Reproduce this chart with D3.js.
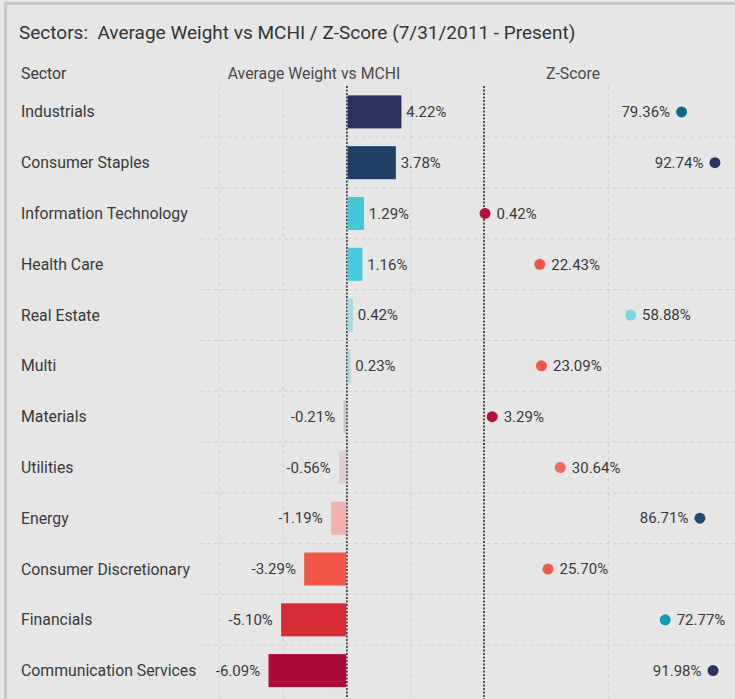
<!DOCTYPE html>
<html>
<head>
<meta charset="utf-8">
<script src="https://cdn.jsdelivr.net/npm/d3@7"></script>
<style>
  html, body { margin: 0; padding: 0; background: #e6e6e6; }
  svg { display: block; font-family: Roboto, sans-serif; }
  .lbl { fill: #3a3a3a; font-size: 15px; }
  .name { fill: #3a3a3a; font-size: 15.8px; }
</style>
</head>
<body>
<svg id="viz"></svg>
<script>
// ----------------------- DATA
const sectors = ['Industrials', 'Consumer Staples', 'Information Technology', 'Health Care',
  'Real Estate', 'Multi', 'Materials', 'Utilities', 'Energy', 'Consumer Discretionary',
  'Financials', 'Communication Services'];
const avgWeight = [4.22, 3.78, 1.29, 1.16, 0.42, 0.23, -0.21, -0.56, -1.19, -3.29, -5.10, -6.09];
const zScore = [79.36, 92.74, 0.42, 22.43, 58.88, 23.09, 3.29, 30.64, 86.71, 25.70, 72.77, 91.98];

// palettes, same order as sectors
const barColors = ['#2c3160', '#1f3f66', '#43c7d9', '#48c8da', '#a6dbe5', '#b0d6de',
  '#c4c7cf', '#e3cdd0', '#f1b1ae', '#f25647', '#d72b35', '#a90c39'];
const dotColors = ['#0d6a89', '#2c3160', '#b4123a', '#f25545', '#7dd4e1', '#f25545',
  '#b4123a', '#f26a5e', '#1e4a70', '#f25a4a', '#0a9db6', '#2c3160'];

const weightTicks = [-10, -5, 5];
const zTicks = [50];

// ----------------------- SETTINGS
const W = 735, H = 699;
const gridTop = 86, gridBottom = H;

const svg = d3.select('#viz').attr('width', W).attr('height', H);

// frame lines (top + left)
svg.append('rect').attr('x', 0).attr('y', 0).attr('width', W).attr('height', H).attr('fill', '#e6e6e6');
svg.append('rect').attr('x', 4).attr('y', 2).attr('width', W - 4).attr('height', 3).attr('fill', '#c6c6c6');
svg.append('rect').attr('x', 4).attr('y', 2).attr('width', 3).attr('height', H).attr('fill', '#c6c6c6');

// ----------------------- SCALES
const y = d3.scaleBand().domain(sectors).range([86.5, 696]).paddingInner(0.35).paddingOuter(0.175);
const rowY = d => y(d) + y.bandwidth() / 2;
const step = y.step();

const x = d3.scaleLinear().domain([-10, 5]).range([219.3, 410.7]);
const xz = d3.scaleLinear().domain([0, 100]).range([484, 733]);

// ----------------------- TITLE / HEADERS
svg.append('text').attr('x', 19).attr('y', 32).attr('dy', '0.35em')
  .attr('fill', '#333').style('font-size', '19px').style('white-space', 'pre')
  .text('Sectors:  Average Weight vs MCHI / Z-Score (7/31/2011 - Present)');

svg.append('text').attr('class', 'name').attr('x', 21).attr('y', 73).attr('dy', '0.35em').text('Sector');
svg.append('text').attr('class', 'name').attr('x', 314).attr('y', 73).attr('dy', '0.35em')
  .attr('text-anchor', 'middle').style('fill', '#4a4a4a').text('Average Weight vs MCHI');
svg.append('text').attr('class', 'name').attr('x', 573).attr('y', 73).attr('dy', '0.35em')
  .attr('text-anchor', 'middle').style('fill', '#4a4a4a').text('Z-Score');

// ----------------------- GRID
// row separators
svg.append('g').selectAll('line')
  .data(sectors.slice(1))
  .enter().append('line')
  .attr('x1', 200).attr('x2', W)
  .attr('y1', d => y(d) - step * 0.175).attr('y2', d => y(d) - step * 0.175)
  .attr('stroke', '#d2d2d2').attr('stroke-dasharray', '4,3');

// light vertical grid
svg.append('g').selectAll('line')
  .data(weightTicks)
  .enter().append('line')
  .attr('x1', d => x(d)).attr('x2', d => x(d))
  .attr('y1', gridTop).attr('y2', gridBottom)
  .attr('stroke', '#d2d2d2').attr('stroke-dasharray', '4,3');

svg.append('g').selectAll('line')
  .data(zTicks)
  .enter().append('line')
  .attr('x1', d => xz(d)).attr('x2', d => xz(d))
  .attr('y1', gridTop).attr('y2', gridBottom)
  .attr('stroke', '#d2d2d2').attr('stroke-dasharray', '4,3');

// zero lines
[x(0), xz(0)].forEach(px => {
  svg.append('line')
    .attr('x1', px).attr('x2', px).attr('y1', gridTop).attr('y2', gridBottom)
    .attr('stroke', '#222').attr('stroke-width', 1.5).attr('stroke-dasharray', '2,1.5');
});

// ----------------------- BARS (drawn over the zero line, like the original)
svg.append('g').selectAll('rect')
  .data(sectors)
  .enter().append('rect')
  .attr('x', (d, i) => x(Math.min(0, avgWeight[i])) - (avgWeight[i] < 0 ? 0.7 : -0.7))
  .attr('y', d => y(d))
  .attr('width', (d, i) => Math.abs(x(avgWeight[i]) - x(0)))
  .attr('height', y.bandwidth())
  .attr('fill', (d, i) => barColors[i]);

svg.append('g').selectAll('text')
  .data(sectors)
  .enter().append('text')
  .attr('class', 'lbl')
  .attr('x', (d, i) => avgWeight[i] >= 0 ? x(avgWeight[i]) + 5.5 : x(avgWeight[i]) - 9)
  .attr('y', rowY).attr('dy', '0.35em')
  .attr('text-anchor', (d, i) => avgWeight[i] >= 0 ? 'start' : 'end')
  .text((d, i) => avgWeight[i].toFixed(2) + '%');

// ----------------------- DOTS
svg.append('g').selectAll('circle')
  .data(sectors)
  .enter().append('circle')
  .attr('cx', (d, i) => xz(zScore[i]))
  .attr('cy', rowY)
  .attr('r', 5.5)
  .attr('fill', (d, i) => dotColors[i]);

// labels flip to the left when they would run off the right edge
svg.append('g').selectAll('text')
  .data(sectors)
  .enter().append('text')
  .attr('class', 'lbl')
  .attr('x', (d, i) => zScore[i] > 75 ? xz(zScore[i]) - 11.5 : xz(zScore[i]) + 11.5)
  .attr('y', rowY).attr('dy', '0.35em')
  .attr('text-anchor', (d, i) => zScore[i] > 75 ? 'end' : 'start')
  .text((d, i) => zScore[i].toFixed(2) + '%');

// ----------------------- SECTOR NAMES
svg.append('g').selectAll('text')
  .data(sectors)
  .enter().append('text')
  .attr('class', 'name')
  .attr('x', 21).attr('y', rowY).attr('dy', '0.35em')
  .text(d => d);
</script>
</body>
</html>
